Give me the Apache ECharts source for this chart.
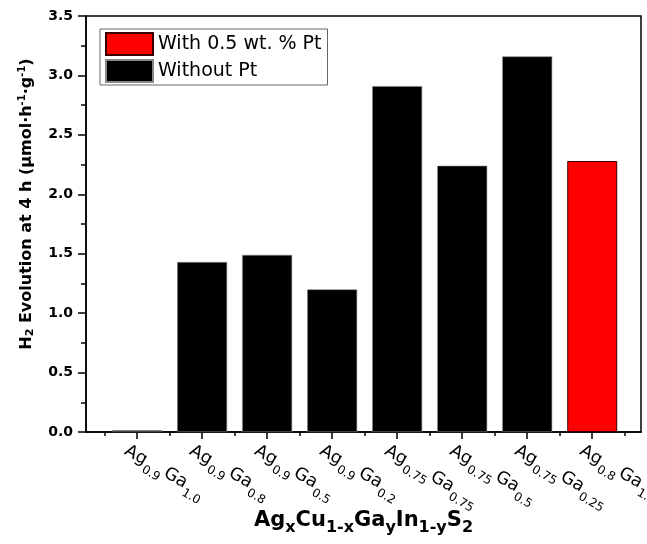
<!DOCTYPE html>
<html><head><meta charset="utf-8">
<script src="https://cdn.jsdelivr.net/npm/echarts@6/dist/echarts.min.js"></script>
<style>html,body{margin:0;padding:0;background:#fff}#c{width:647px;height:544px}</style>
</head><body><div id="c"></div>
<script>
const agSubs = ['0.9', '0.9', '0.9', '0.9', '0.75', '0.75', '0.75', '0.8'];
const gaSubs = ['1.0', '0.8', '0.5', '0.2', '0.75', '0.5', '0.25', '1.0'];
const withoutPt = [0.015, 1.43, 1.49, 1.20, 2.91, 2.24, 3.16, null];
const withPt = [null, null, null, null, null, null, null, 2.28];
const seriesNames = ['With 0.5 wt. % Pt', 'Without Pt'];

const FF = '"DejaVu Sans", sans-serif';
const positions = agSubs.map((_, i) => i + 1);
const halfPositions = [0.5].concat(positions.map(p => p + 0.5));
const toPairs = arr => arr.map((v, i) => v == null ? null : [i + 1, v]).filter(d => d);

const chart = echarts.init(document.getElementById('c'));
chart.setOption({
  animation: false,
  backgroundColor: '#fff',
  grid: { left: 86, right: 6, top: 16, bottom: 112, outerBoundsMode: 'none', containLabel: false,
          show: true, borderColor: '#000', borderWidth: 1.5 },
  legend: {
    orient: 'vertical', left: 100, top: 29, itemWidth: 47, itemHeight: 22, itemGap: 3,
    borderColor: '#666', borderWidth: 1, padding: [3, 6, 2, 5], icon: 'rect',
    textStyle: { fontSize: 19, color: '#000', fontFamily: FF },
    data: seriesNames
  },
  xAxis: [{
    type: 'value', min: 0.214, max: 8.75, position: 'bottom',
    axisLine: { show: true, onZero: false, lineStyle: { color: '#000', width: 1.5 } },
    axisTick: { show: true, customValues: positions, length: 7, lineStyle: { color: '#000', width: 1.5 } },
    splitLine: { show: false },
    axisLabel: {
      customValues: positions, rotate: -30, margin: -2, align: 'left', verticalAlign: 'top',
      padding: [8, 0, 0, 0],
      formatter: v => { const i = Math.round(v) - 1; return '{m|Ag}{s|' + agSubs[i] + '}{m|Ga}{s|' + gaSubs[i] + '}'; },
      rich: {
        m: { fontSize: 17.5, fontFamily: FF, color: '#000' },
        s: { fontSize: 12, fontFamily: FF, color: '#000', padding: [17, 2, 0, 1] }
      }
    },
    name: '{b|Ag}{bs|x}{b|Cu}{bs|1-x}{b|Ga}{bs|y}{b|In}{bs|1-y}{b|S}{bs|2}',
    nameLocation: 'middle', nameGap: 74, nameMoveOverlap: false,
    nameTextStyle: {
      rich: {
        b: { fontSize: 21, fontWeight: 'bold', fontFamily: FF, color: '#000' },
        bs: { fontSize: 16, fontWeight: 'bold', fontFamily: FF, color: '#000', padding: [14, 0, 0, 0] }
      }
    }
  }, {
    type: 'value', min: 0.214, max: 8.75, position: 'bottom',
    axisLine: { show: false },
    axisTick: { show: true, customValues: halfPositions, length: 4, lineStyle: { color: '#000', width: 1.5 } },
    axisLabel: { show: false }, splitLine: { show: false }
  }],
  yAxis: {
    type: 'value', min: 0, max: 3.5, interval: 0.5,
    axisLine: { show: true, lineStyle: { color: '#000', width: 1.5 } },
    axisTick: { show: true, length: 8, lineStyle: { color: '#000', width: 1.5 } },
    minorTick: { show: true, splitNumber: 2, length: 5, lineStyle: { color: '#000', width: 1.5 } },
    splitLine: { show: false },
    axisLabel: { fontSize: 14, fontWeight: 'bold', fontFamily: FF, color: '#000', margin: 13, formatter: v => v.toFixed(1) },
    name: '{b|H}{sub|2}{b| Evolution at 4 h (μmol·h}{sup|-1}{b|·g}{sup|-1}{b|)}',
    nameLocation: 'middle', nameGap: 49, nameRotate: 90, nameMoveOverlap: false,
    nameTextStyle: {
      padding: [0, 0, 0, 40],
      rich: {
        b: { fontSize: 16, fontWeight: 'bold', fontFamily: FF, color: '#000' },
        sub: { fontSize: 11, fontWeight: 'bold', fontFamily: FF, color: '#000', padding: [6, 0, 0, 0] },
        sup: { fontSize: 10, fontWeight: 'bold', fontFamily: FF, color: '#000', padding: [0, 0, 10, 0] }
      }
    }
  },
  series: [{
    name: seriesNames[0], type: 'bar', barWidth: 50, barGap: '-100%',
    itemStyle: { color: '#ff0000', borderColor: '#3a0000', borderWidth: 1 },
    data: toPairs(withPt)
  }, {
    name: seriesNames[1], type: 'bar', barWidth: 50, barGap: '-100%',
    itemStyle: { color: '#000000', borderColor: '#888', borderWidth: 0.6 },
    data: toPairs(withoutPt)
  }]
});
</script>
</body></html>
